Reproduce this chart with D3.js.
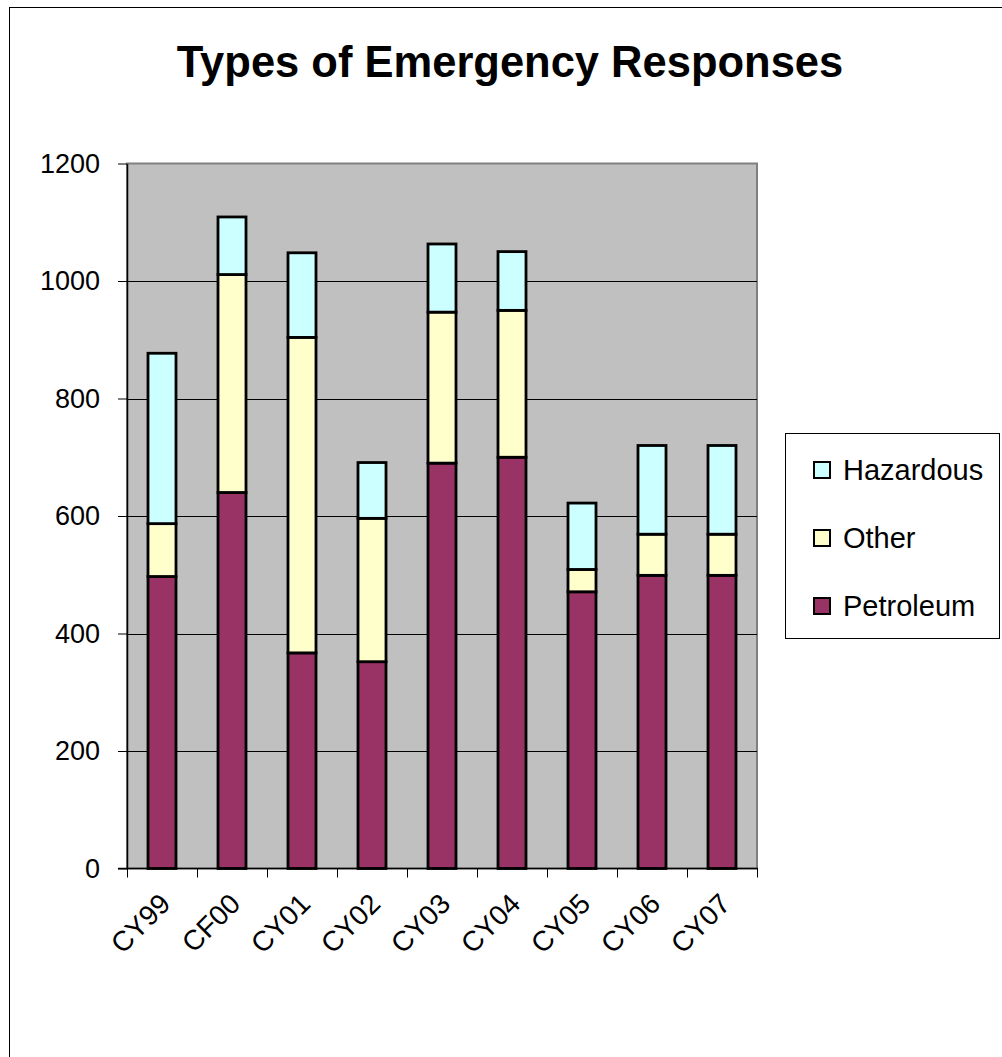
<!DOCTYPE html>
<html>
<head>
<meta charset="utf-8">
<script src="https://cdn.jsdelivr.net/npm/d3@7/dist/d3.min.js"></script>
<style>
  html, body { margin: 0; padding: 0; background: #fff; }
  svg { display: block; font-family: "Liberation Sans", Arial, sans-serif; }
</style>
</head>
<body>
<svg id="chart" width="1002" height="1057"></svg>
<script>
// Emergency responses per year, by type
const years = ["CY99", "CF00", "CY01", "CY02", "CY03", "CY04", "CY05", "CY06", "CY07"];
const petroleum = [497, 640, 367, 352, 690, 700, 471, 499, 499];
const other     = [90, 371, 537, 244, 257, 250, 38, 70, 70];
const hazardous = [290, 98, 144, 95, 116, 100, 113, 151, 151];
const yTicks = [0, 200, 400, 600, 800, 1000, 1200];

const seriesNames = ["Petroleum", "Other", "Hazardous"];
const colors = { Petroleum: "#993366", Other: "#FFFFCC", Hazardous: "#CCFFFF" };

const rows = years.map((y, i) => ({
  year: y, Petroleum: petroleum[i], Other: other[i], Hazardous: hazardous[i]
}));
const stacked = d3.stack().keys(seriesNames)(rows);

const svg = d3.select("#chart");
const plot = { left: 127, top: 163.5, right: 757, bottom: 868.5 };

// outer chart frame
svg.append("rect")
  .attr("x", 9.5).attr("y", 7.5)
  .attr("width", 1100).attr("height", 1100)
  .attr("fill", "#fff").attr("stroke", "#000").attr("stroke-width", 1);

svg.append("text")
  .attr("x", 510).attr("y", 77)
  .attr("text-anchor", "middle")
  .attr("font-size", 43.5).attr("font-weight", "bold")
  .text("Types of Emergency Responses");

const x = d3.scaleBand().domain(years).range([plot.left, plot.right]).paddingInner(0.6).paddingOuter(0.3);
const xEdge = d3.scaleBand().domain(years).range([plot.left, plot.right]);
const y = d3.scaleLinear().domain([0, 1200]).range([plot.bottom, plot.top]);

// plot background
svg.append("rect")
  .attr("x", plot.left).attr("y", plot.top)
  .attr("width", plot.right - plot.left).attr("height", plot.bottom - plot.top)
  .attr("fill", "#C0C0C0").attr("stroke", "#808080").attr("stroke-width", 2);

// gridlines
svg.append("g").selectAll("line")
  .data(yTicks.filter(t => t > 0 && t < 1200))
  .join("line")
  .attr("x1", plot.left).attr("x2", plot.right)
  .attr("y1", d => Math.round(y(d)) + 0.5).attr("y2", d => Math.round(y(d)) + 0.5)
  .attr("stroke", "#000").attr("stroke-width", 1);

// stacked bars
svg.append("g").selectAll("g")
  .data(stacked)
  .join("g")
  .attr("fill", d => colors[d.key])
  .selectAll("rect")
  .data(d => d)
  .join("rect")
  .attr("x", d => x(d.data.year))
  .attr("width", x.bandwidth())
  .attr("y", d => y(d[1]))
  .attr("height", d => y(d[0]) - y(d[1]))
  .attr("stroke", "#000").attr("stroke-width", 2.8);

// y axis
const yAxis = svg.append("g")
  .attr("transform", `translate(${plot.left},0)`)
  .call(d3.axisLeft(y).tickValues(yTicks).tickFormat(d3.format("d"))
    .tickSize(9).tickPadding(18).tickSizeOuter(0));
yAxis.select(".domain").attr("stroke", "#000").attr("stroke-width", 1.5);
yAxis.selectAll(".tick line").attr("stroke", "#000");
yAxis.selectAll("text").attr("font-size", 27).attr("fill", "#000")
  .attr("font-family", "Liberation Sans, Arial, sans-serif");

// x axis: line and ticks at category boundaries
const xAxisG = svg.append("g");
xAxisG.append("line")
  .attr("x1", plot.left - 9).attr("x2", plot.right + 1)
  .attr("y1", plot.bottom).attr("y2", plot.bottom)
  .attr("stroke", "#000").attr("stroke-width", 1.5);
const edges = years.map(yr => xEdge(yr)).concat([plot.right]);
xAxisG.selectAll("line.tick")
  .data(edges)
  .join("line")
  .attr("class", "tick")
  .attr("x1", d => Math.round(d) + 0.5).attr("x2", d => Math.round(d) + 0.5)
  .attr("y1", plot.bottom).attr("y2", plot.bottom + 9)
  .attr("stroke", "#000").attr("stroke-width", 1);

xAxisG.selectAll("text")
  .data(years)
  .join("text")
  .attr("text-anchor", "end")
  .attr("font-size", 28)
  .attr("transform", d => `translate(${x(d) + x.bandwidth() / 2 + 10},${plot.bottom + 37}) rotate(-45)`)
  .text(d => d);

// legend
const legend = svg.append("g");
legend.append("rect")
  .attr("x", 785.5).attr("y", 433.5)
  .attr("width", 214).attr("height", 205)
  .attr("fill", "#fff").attr("stroke", "#000").attr("stroke-width", 1);
const legendOrder = ["Hazardous", "Other", "Petroleum"];
const legendY = d3.scalePoint().domain(legendOrder).range([470, 606]);
const li = legend.selectAll("g.item")
  .data(legendOrder)
  .join("g")
  .attr("class", "item")
  .attr("transform", d => `translate(814,${legendY(d)})`);
li.append("rect")
  .attr("x", 0).attr("y", -8).attr("width", 16).attr("height", 16)
  .attr("fill", d => colors[d]).attr("stroke", "#000").attr("stroke-width", 2);
li.append("text")
  .attr("x", 29).attr("y", 10)
  .attr("font-size", 29)
  .text(d => d);
</script>
</body>
</html>
